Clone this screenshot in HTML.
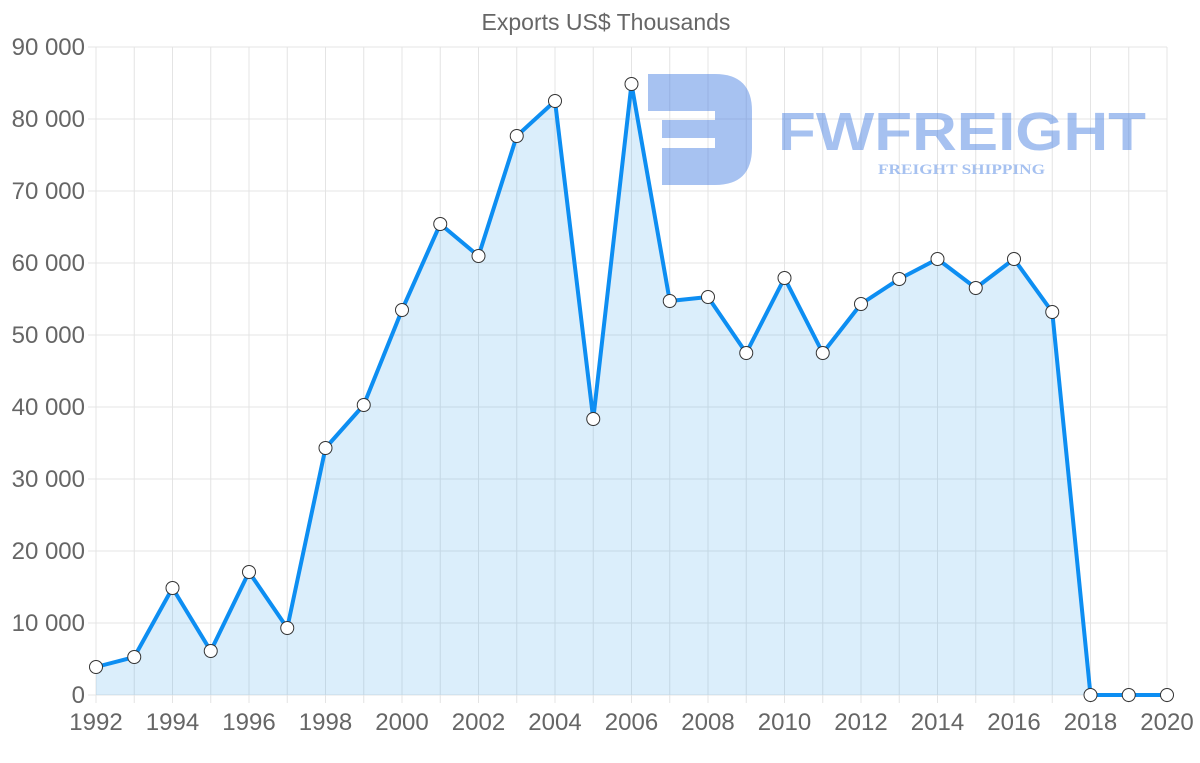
<!DOCTYPE html>
<html><head><meta charset="utf-8"><style>
html,body{margin:0;padding:0;background:#fff;}
svg{display:block;font-family:"Liberation Sans",Arial,sans-serif;}
</style></head><body>
<svg width="1200" height="763" viewBox="0 0 1200 763" xmlns="http://www.w3.org/2000/svg">
<defs>
<marker id="m" markerUnits="userSpaceOnUse" markerWidth="16" markerHeight="16" refX="8" refY="8" overflow="visible">
<circle cx="8" cy="8" r="6.5" fill="#fff" stroke="#333" stroke-width="1"/>
</marker>
</defs>
<text x="606" y="30" text-anchor="middle" font-size="23" fill="#666">Exports US$ Thousands</text>
<g stroke="#e4e4e4" stroke-width="1">
<line x1="88" y1="695" x2="1167" y2="695"/><line x1="88" y1="623" x2="1167" y2="623"/><line x1="88" y1="551" x2="1167" y2="551"/><line x1="88" y1="479" x2="1167" y2="479"/><line x1="88" y1="407" x2="1167" y2="407"/><line x1="88" y1="335" x2="1167" y2="335"/><line x1="88" y1="263" x2="1167" y2="263"/><line x1="88" y1="191" x2="1167" y2="191"/><line x1="88" y1="119" x2="1167" y2="119"/><line x1="88" y1="47" x2="1167" y2="47"/>
<line x1="96" y1="47" x2="96" y2="703"/><line x1="134.25" y1="47" x2="134.25" y2="703"/><line x1="172.5" y1="47" x2="172.5" y2="703"/><line x1="210.75" y1="47" x2="210.75" y2="703"/><line x1="249" y1="47" x2="249" y2="703"/><line x1="287.25" y1="47" x2="287.25" y2="703"/><line x1="325.5" y1="47" x2="325.5" y2="703"/><line x1="363.75" y1="47" x2="363.75" y2="703"/><line x1="402" y1="47" x2="402" y2="703"/><line x1="440.25" y1="47" x2="440.25" y2="703"/><line x1="478.5" y1="47" x2="478.5" y2="703"/><line x1="516.75" y1="47" x2="516.75" y2="703"/><line x1="555" y1="47" x2="555" y2="703"/><line x1="593.25" y1="47" x2="593.25" y2="703"/><line x1="631.5" y1="47" x2="631.5" y2="703"/><line x1="669.75" y1="47" x2="669.75" y2="703"/><line x1="708" y1="47" x2="708" y2="703"/><line x1="746.25" y1="47" x2="746.25" y2="703"/><line x1="784.5" y1="47" x2="784.5" y2="703"/><line x1="822.75" y1="47" x2="822.75" y2="703"/><line x1="861" y1="47" x2="861" y2="703"/><line x1="899.25" y1="47" x2="899.25" y2="703"/><line x1="937.5" y1="47" x2="937.5" y2="703"/><line x1="975.75" y1="47" x2="975.75" y2="703"/><line x1="1014" y1="47" x2="1014" y2="703"/><line x1="1052.25" y1="47" x2="1052.25" y2="703"/><line x1="1090.5" y1="47" x2="1090.5" y2="703"/><line x1="1128.75" y1="47" x2="1128.75" y2="703"/><line x1="1167" y1="47" x2="1167" y2="703"/>
</g>
<g font-size="24" fill="#666" text-anchor="end">
<text x="85" y="703">0</text><text x="85" y="631">10 000</text><text x="85" y="559">20 000</text><text x="85" y="487">30 000</text><text x="85" y="415">40 000</text><text x="85" y="343">50 000</text><text x="85" y="271">60 000</text><text x="85" y="199">70 000</text><text x="85" y="127">80 000</text><text x="85" y="55">90 000</text>
</g>
<g font-size="24" fill="#666" text-anchor="middle">
<text x="96" y="730">1992</text><text x="172.5" y="730">1994</text><text x="249" y="730">1996</text><text x="325.5" y="730">1998</text><text x="402" y="730">2000</text><text x="478.5" y="730">2002</text><text x="555" y="730">2004</text><text x="631.5" y="730">2006</text><text x="708" y="730">2008</text><text x="784.5" y="730">2010</text><text x="861" y="730">2012</text><text x="937.5" y="730">2014</text><text x="1014" y="730">2016</text><text x="1090.5" y="730">2018</text><text x="1167" y="730">2020</text>
</g>
<g opacity="0.45">
<path d="M648 74 H715 Q752 74 752 111 V148 Q752 185 715 185 H662 V148 H715 V138 H662 V120 H715 V111 H648 Z" fill="#3b78e0"/>
<text x="778" y="150" font-size="54" font-weight="bold" fill="#3b78e0" textLength="368" lengthAdjust="spacingAndGlyphs">FWFREIGHT</text>
<text x="878" y="174" font-size="15" font-weight="bold" fill="#3b78e0" font-family="Liberation Serif,serif" textLength="167" lengthAdjust="spacingAndGlyphs">FREIGHT SHIPPING</text>
</g>
<polygon fill="rgba(54,162,235,0.18)" points="96,667 134.25,657 172.5,588 210.75,651 249,572 287.25,628 325.5,448 363.75,405 402,310 440.25,224 478.5,256 516.75,136 555,101 593.25,419 631.5,84 669.75,301 708,297 746.25,353 784.5,278 822.75,353 861,304 899.25,279 937.5,259 975.75,288 1014,259 1052.25,312 1090.5,695 1128.75,695 1167,695 96,695"/>
<polyline fill="none" stroke="#0d8ef2" stroke-width="4" stroke-linejoin="round" marker-start="url(#m)" marker-mid="url(#m)" marker-end="url(#m)" points="96,667 134.25,657 172.5,588 210.75,651 249,572 287.25,628 325.5,448 363.75,405 402,310 440.25,224 478.5,256 516.75,136 555,101 593.25,419 631.5,84 669.75,301 708,297 746.25,353 784.5,278 822.75,353 861,304 899.25,279 937.5,259 975.75,288 1014,259 1052.25,312 1090.5,695 1128.75,695 1167,695"/>
</svg>
</body></html>
